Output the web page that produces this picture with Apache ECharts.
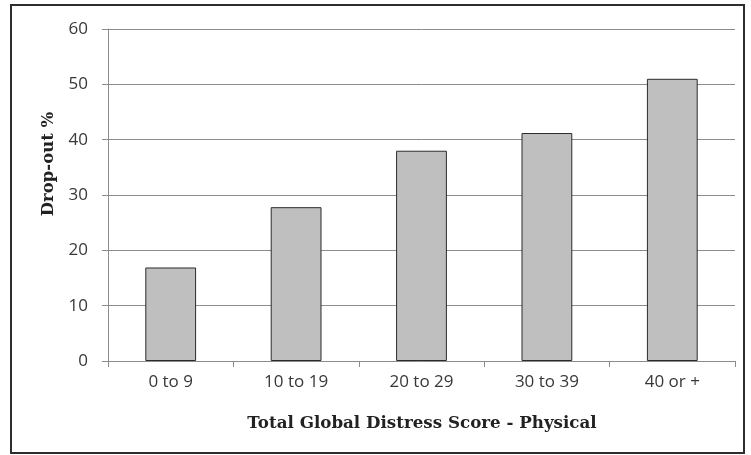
<!DOCTYPE html>
<html>
<head>
<meta charset="utf-8">
<script src="https://cdn.jsdelivr.net/npm/echarts@6/dist/echarts.min.js"></script>
<style>
  html, body { margin: 0; padding: 0; background: #fff; }
  #chart { width: 751px; height: 455px; }
</style>
</head>
<body>
<div id="chart"></div>
<script>
// Drop-out rate by physical distress score band
const categories = ['0 to 9', '10 to 19', '20 to 29', '30 to 39', '40 or +'];
const dropOut = [16.9, 27.8, 38, 41.2, 51];
const yTicks = [0, 10, 20, 30, 40, 50, 60];

const xTitle = 'Total Global Distress Score - Physical';
const yTitle = 'Drop-out %';

const chart = echarts.init(document.getElementById('chart'), null, { renderer: 'canvas' });

const gridColor = '#8c8c8c';
const sansFont = '"Open Sans", "DejaVu Sans", sans-serif';
const serifFont = '"DejaVu Serif", "Liberation Serif", serif';

chart.setOption({
  animation: false,
  backgroundColor: '#ffffff',
  grid: { left: 108, right: 16, top: 29, bottom: 94 },
  xAxis: {
    type: 'category',
    data: categories,
    boundaryGap: true,
    axisLine: { show: true, lineStyle: { color: gridColor, width: 1 } },
    axisTick: { show: true, length: 6, alignWithLabel: false, lineStyle: { color: gridColor } },
    axisLabel: {
      margin: 13,
      fontFamily: sansFont,
      fontSize: 17,
      color: '#383838'
    }
  },
  yAxis: {
    type: 'value',
    min: 0,
    max: yTicks[yTicks.length - 1],
    interval: yTicks[1] - yTicks[0],
    axisLine: { show: true, lineStyle: { color: gridColor, width: 1 } },
    axisTick: { show: true, length: 6, lineStyle: { color: gridColor } },
    axisLabel: {
      margin: 20,
      fontFamily: sansFont,
      fontSize: 17,
      color: '#383838'
    },
    splitLine: { show: true, lineStyle: { color: gridColor, width: 1 } }
  },
  series: [{
    type: 'bar',
    data: dropOut,
    barWidth: '40.5%',
    itemStyle: { color: '#bfbfbf', borderColor: '#2b2b2b', borderWidth: 1 }
  }],
  graphic: [
    {
      type: 'rect',
      shape: { x: 11, y: 5, width: 733, height: 448 },
      style: { fill: 'none', stroke: '#2e2e2e', lineWidth: 2 },
      silent: true
    },
    {
      type: 'text',
      x: 422, y: 415,
      style: {
        text: xTitle,
        fontFamily: serifFont,
        fontWeight: 'bold',
        fontSize: 16.7,
        fill: '#222',
        textAlign: 'center',
        textVerticalAlign: 'top'
      }
    },
    {
      type: 'text',
      x: 49, y: 164,
      rotation: Math.PI / 2,
      style: {
        text: yTitle,
        fontFamily: serifFont,
        fontWeight: 'bold',
        fontSize: 16.5,
        fill: '#222',
        textAlign: 'center',
        textVerticalAlign: 'middle'
      }
    }
  ]
});
</script>
</body>
</html>
